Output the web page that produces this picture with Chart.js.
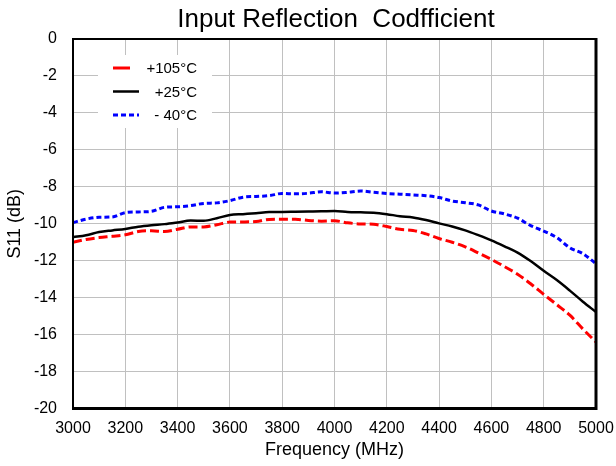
<!DOCTYPE html>
<html>
<head>
<meta charset="utf-8">
<script src="https://cdn.jsdelivr.net/npm/chart.js@4"></script>
<style>
  html, body { margin: 0; padding: 0; background: #fff; }
  #wrap { width: 616px; height: 466px; }
</style>
</head>
<body>
<div id="wrap"><canvas id="chart" width="616" height="466"></canvas></div>
<script>
var titulo = "Input Reflection  Codfficient";
var nomes = ["+105°C", "+25°C", "- 40°C"];

var freq = [3000, 3050, 3100, 3150, 3200, 3250, 3300, 3350, 3400, 3450,
            3500, 3550, 3600, 3650, 3700, 3750, 3800, 3850, 3900, 3950,
            4000, 4050, 4100, 4150, 4200, 4250, 4300, 4350, 4400, 4450,
            4500, 4550, 4600, 4650, 4700, 4750, 4800, 4850, 4900, 4950, 5000];

var s105 = [-11.0, -10.85, -10.75, -10.68, -10.60, -10.42, -10.38, -10.42, -10.30, -10.17,
            -10.17, -10.05, -9.91, -9.90, -9.88, -9.77, -9.76, -9.76, -9.82, -9.86,
            -9.84, -9.95, -10.01, -10.03, -10.15, -10.30, -10.36, -10.55, -10.80, -11.0,
            -11.25, -11.58, -11.93, -12.32, -12.73, -13.25, -13.82, -14.38, -14.95, -15.70, -16.40];

var s25 = [-10.73, -10.62, -10.45, -10.36, -10.28, -10.16, -10.08, -10.02, -9.93, -9.83,
           -9.84, -9.70, -9.53, -9.48, -9.43, -9.37, -9.36, -9.35, -9.34, -9.33,
           -9.31, -9.36, -9.38, -9.40, -9.48, -9.59, -9.66, -9.80, -9.98, -10.15,
           -10.36, -10.62, -10.90, -11.22, -11.56, -12.02, -12.55, -13.05, -13.62, -14.22, -14.78];

var s40 = [-9.94, -9.75, -9.65, -9.63, -9.40, -9.36, -9.33, -9.11, -9.08, -9.02,
           -8.90, -8.87, -8.75, -8.56, -8.52, -8.48, -8.36, -8.38, -8.35, -8.27,
           -8.34, -8.30, -8.23, -8.30, -8.36, -8.40, -8.44, -8.48, -8.58, -8.77,
           -8.86, -8.98, -9.31, -9.47, -9.70, -10.10, -10.40, -10.75, -11.30, -11.62, -12.16];

var fonte = "'Liberation Sans', Arial, sans-serif";

function pontos(serie) {
    return freq.map(function (f, i) { return { x: f, y: serie[i] }; });
}

// titulo, moldura e legenda desenhados a mao
var extras = {
    id: 'extras',
    beforeDatasetsDraw: function (chart) {
        var ctx = chart.ctx;
        ctx.save();
        ctx.fillStyle = '#fff';
        ctx.fillRect(98, 55, 114, 73);
        var ys = [68, 91.5, 115];
        chart.data.datasets.forEach(function (ds, i) {
            ctx.beginPath();
            ctx.strokeStyle = ds.borderColor;
            ctx.lineWidth = ds.borderWidth;
            ctx.setLineDash(i == 0 ? [] : (ds.borderDash || []));
            ctx.moveTo(113, ys[i]);
            ctx.lineTo(i == 0 ? 130 : 139, ys[i]);
            ctx.stroke();
            ctx.setLineDash([]);
            ctx.fillStyle = '#000';
            ctx.font = '15px ' + fonte;
            ctx.textAlign = 'right';
            ctx.textBaseline = 'middle';
            ctx.fillText(nomes[i], 197, ys[i] + 1);
        });
        ctx.restore();
    },
    afterDatasetsDraw: function (chart) {
        var ctx = chart.ctx;
        var a = chart.chartArea;
        ctx.save();
        ctx.strokeStyle = '#000';
        ctx.lineWidth = 2;
        ctx.strokeRect(a.left, a.top, a.right - a.left, a.bottom - a.top);
        ctx.lineWidth = 3;
        ctx.beginPath();
        ctx.moveTo(a.left - 1, a.bottom);
        ctx.lineTo(a.right, a.bottom);
        ctx.lineTo(a.right, a.top - 1);
        ctx.stroke();
        ctx.restore();
    },
    afterDraw: function (chart) {
        var ctx = chart.ctx;
        ctx.save();
        ctx.fillStyle = '#000';
        ctx.font = '26px ' + fonte;
        ctx.textAlign = 'center';
        ctx.textBaseline = 'middle';
        ctx.fillText(titulo, 336, 20);
        ctx.restore();
    }
};

var ct = document.getElementById("chart");

var grafico = new Chart(ct, {
    type: 'line',
    data: {
        datasets: [{
            label: nomes[0],
            data: pontos(s105),
            borderWidth: 3,
            borderColor: '#ff0000',
            borderDash: [9, 4],
            backgroundColor: 'transparent',
        },
        {
            label: nomes[1],
            data: pontos(s25),
            borderWidth: 2.5,
            borderColor: '#000000',
            backgroundColor: 'transparent',
        },
        {
            label: nomes[2],
            data: pontos(s40),
            borderWidth: 3,
            borderColor: '#0000ff',
            borderDash: [5, 3],
            backgroundColor: 'transparent',
        }]
    },
    options: {
        responsive: false,
        animation: false,
        events: [],
        layout: { padding: { top: 39, right: 20, left: 0, bottom: 0 } },
        elements: {
            point: { radius: 0 },
            line: { cubicInterpolationMode: 'monotone' }
        },
        plugins: {
            legend: { display: false },
            title: { display: false },
            tooltip: { enabled: false }
        },
        scales: {
            x: {
                type: 'linear',
                min: 3000,
                max: 5000,
                afterFit: function (s) {
                    s.height = 57.5;
                    s.paddingLeft = 0;
                    s.paddingRight = 0;
                },
                ticks: {
                    stepSize: 200,
                    padding: 10,
                    color: '#000',
                    font: { family: fonte, size: 16 },
                    maxRotation: 0,
                    callback: function (v) { return String(v); }
                },
                grid: { color: '#c0c0c0', lineWidth: 1, drawTicks: false },
                border: { display: false },
                title: {
                    display: true,
                    text: 'Frequency (MHz)',
                    color: '#000',
                    font: { family: fonte, size: 18 },
                    padding: { top: 0, bottom: 5 }
                }
            },
            y: {
                min: -20,
                max: 0,
                afterFit: function (s) {
                    s.width = 73;
                    s.paddingTop = 0;
                    s.paddingBottom = 0;
                },
                ticks: {
                    stepSize: 2,
                    padding: 16,
                    color: '#000',
                    font: { family: fonte, size: 16 }
                },
                grid: { color: '#c0c0c0', lineWidth: 1, drawTicks: false },
                border: { display: false },
                title: {
                    display: true,
                    text: 'S11 (dB)',
                    color: '#000',
                    font: { family: fonte, size: 18 },
                    padding: { top: 4, bottom: 0 }
                }
            }
        }
    },
    plugins: [extras]
});
</script>
</body>
</html>
